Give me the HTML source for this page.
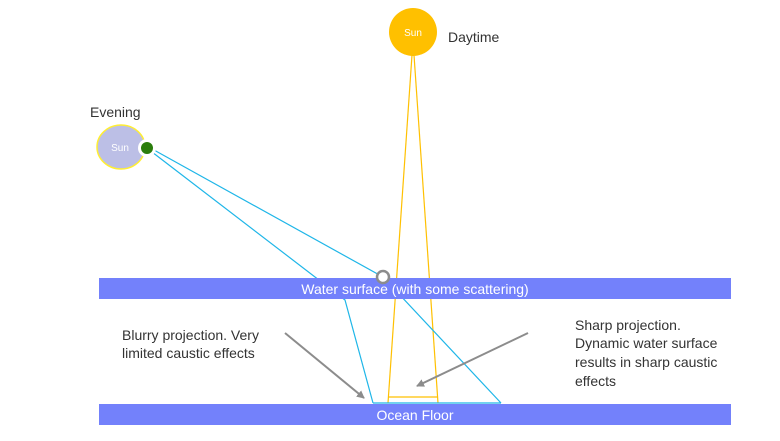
<!DOCTYPE html>
<html><head><style>body{margin:0;background:#fff}svg{display:block}text{font-family:"Liberation Sans",sans-serif}</style></head><body>
<svg width="780" height="441" viewBox="0 0 780 441">
<defs><marker id="ah" markerWidth="8" markerHeight="8" refX="7" refY="4" orient="auto" markerUnits="userSpaceOnUse"><path d="M0,0 L8,4 L0,8 z" fill="#8c8c8c"/></marker></defs>
<g stroke="#ffc000" stroke-width="1.2" fill="none">
<line x1="412" y1="55" x2="388" y2="403"/><line x1="414" y1="55" x2="438" y2="403"/>
<line x1="388" y1="397" x2="438" y2="397"/></g>
<g stroke="#1fb6e8" stroke-width="1.2" fill="none">
<polyline points="152,152 345,300 373,403"/>
<polyline points="154,150 383,277 501,403"/>
<line x1="373" y1="403" x2="501" y2="403"/></g>
<rect x="99" y="278" width="632" height="21" fill="#7381fb"/>
<rect x="99" y="404" width="632" height="21" fill="#7381fb"/>
<text x="415" y="294" font-size="14" fill="#fff" text-anchor="middle">Water surface (with some scattering)</text>
<text x="415" y="420" font-size="14" fill="#fff" text-anchor="middle">Ocean Floor</text>
<circle cx="413" cy="32" r="24" fill="#ffc000"/>
<text x="413" y="36" font-size="10" fill="#fff" text-anchor="middle">Sun</text>
<ellipse cx="121" cy="147" rx="24" ry="22" fill="#bcbfe6" stroke="#ffee33" stroke-width="1.5"/>
<circle cx="147" cy="148" r="9" fill="#fff"/>
<circle cx="147" cy="148" r="6" fill="#2a7d0c"/>
<text x="120" y="151" font-size="10" fill="#fff" text-anchor="middle">Sun</text>
<circle cx="383" cy="277" r="6" fill="#fff" stroke="#8c8c8c" stroke-width="2.5"/>
<text x="448" y="42" font-size="14" fill="#333">Daytime</text>
<text x="90" y="117" font-size="14" fill="#333">Evening</text>
<text x="122" y="340" font-size="14" fill="#333">Blurry projection. Very</text>
<text x="122" y="358" font-size="14" fill="#333">limited caustic effects</text>
<text x="575" y="330" font-size="14" fill="#333">Sharp projection.</text>
<text x="575" y="348" font-size="14" fill="#333">Dynamic water surface</text>
<text x="575" y="367" font-size="14" fill="#333">results in sharp caustic</text>
<text x="575" y="386" font-size="14" fill="#333">effects</text>
<line x1="285" y1="333" x2="364" y2="398" stroke="#8c8c8c" stroke-width="2" marker-end="url(#ah)"/>
<line x1="528" y1="333" x2="417" y2="386" stroke="#8c8c8c" stroke-width="2" marker-end="url(#ah)"/>
</svg></body></html>
